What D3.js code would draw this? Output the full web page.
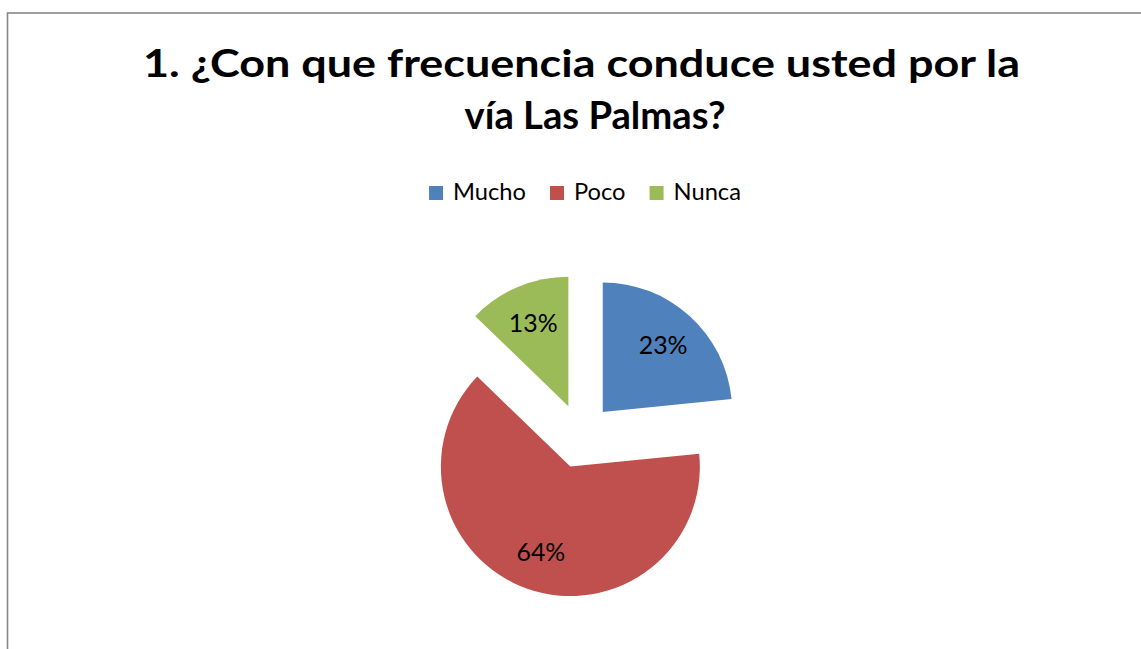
<!DOCTYPE html>
<html>
<head>
<meta charset="utf-8">
<script src="https://cdn.jsdelivr.net/npm/d3@7/dist/d3.min.js"></script>
<style>
  html, body { margin: 0; padding: 0; background: #fff; }
  svg { display: block; }
  text { font-family: Lato, "Open Sans", "DejaVu Sans", sans-serif; fill: #000; }
</style>
</head>
<body>
<svg id="chart" width="1141" height="649"></svg>
<script>
// chart data
const titleLines = ['1. ¿Con que frecuencia conduce usted por la', 'vía Las Palmas?'];
const categories = ['Mucho', 'Poco', 'Nunca'];
const counts = [11, 30, 6];
const colors = ['#4F81BD', '#C0504D', '#9BBB59'];

const width = 1141, height = 649;
const cx = 581, cy = 436;
const radius = 129.5,
  explode = 32.4,
  labelR = 90;

const svg = d3.select('#chart');

// frame (runs off the right and bottom edge like the source)
svg.append('rect')
  .attr('x', 7.5)
  .attr('y', 13)
  .attr('width', width + 10)
  .attr('height', height + 10)
  .attr('fill', '#fff')
  .attr('stroke', '#888')
  .attr('stroke-width', 1.6);

// scale font so the text spans the wanted width
function fitFont(sel, target){
  let w = sel.node().getComputedTextLength();
  let fs = parseFloat(sel.attr('font-size'));
  return fs * target / w;
}

//title - squeezed a bit to get the narrow bold look
const title = svg.append('g').attr('class', 'title');
title.append('text')
  .attr('x', 581.5)
  .attr('y', 77)
  .attr('text-anchor', 'middle')
  .attr('font-weight', 'bold')
  .attr('font-size', 38)
  .attr('textLength', 877)
  .attr('lengthAdjust', 'spacingAndGlyphs')
  .text(titleLines[0]);
title.append('text')
  .attr('x', 595)
  .attr('y', 129)
  .attr('text-anchor', 'middle')
  .attr('font-weight', 'bold')
  .attr('font-size', 38)
  .attr('textLength', 261)
  .attr('lengthAdjust', 'spacingAndGlyphs')
  .text(titleLines[1]);

// legend
const legend = svg.append('g').attr('class', 'legend');
let probe = legend.append('text').attr('font-size', 22).text(categories[0]);
const legendSize = fitFont(probe, 73);
probe.remove();

let items = legend.selectAll('g')
  .data(categories)
  .enter().append('g');
items.append('rect')
  .attr('width', 14)
  .attr('height', 14)
  .attr('y', 186)
  .attr('fill', (d, i) => colors[i]);
items.append('text')
  .attr('x', 24)
  .attr('y', 200)
  .attr('font-size', legendSize)
  .text(d => d);

let xpos = 0;
items.each(function(){
  let w = d3.select(this).select('text').node().getComputedTextLength();
  d3.select(this).attr('data-x', xpos);
  xpos += 24 + w + 24;
});
let legendW = xpos - 24;
let legendX = 585 - legendW / 2;
items.attr('transform', function(){
  return `translate(${legendX + (+d3.select(this).attr('data-x'))},0)`;
});

// exploded pie
const pie = d3.pie().sort(null).value(d => d);
const arc = d3.arc().innerRadius(0).outerRadius(radius);
const labelArc = d3.arc().innerRadius(labelR).outerRadius(labelR);
const total = d3.sum(counts);

function shift(d){
  let mid = (d.startAngle + d.endAngle) / 2;
  return [explode * Math.sin(mid), -explode * Math.cos(mid)];
}

const slices = svg.append('g')
  .attr('transform', `translate(${cx},${cy})`)
  .selectAll('g')
  .data(pie(counts))
  .enter().append('g')
    .attr('transform', d => { let s = shift(d); return `translate(${s[0]},${s[1]})`; });

slices.append('path')
  .attr('d', arc)
  .attr('fill', (d, i) => colors[i]);

slices.append('text')
  .attr('transform', d => `translate(${labelArc.centroid(d)})`)
  .attr('text-anchor', 'middle')
  .attr('dy', '0.36em')
  .attr('font-size', legendSize * 1.05)
  .text(d => Math.round(d.value / total * 100) + '%');
</script>
</body>
</html>
